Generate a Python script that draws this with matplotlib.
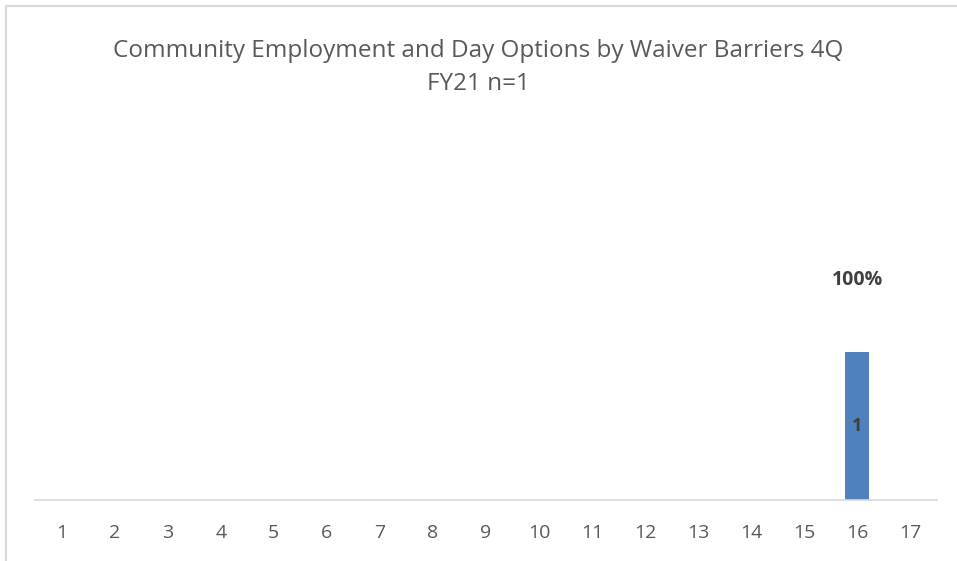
import numpy as np
import matplotlib
matplotlib.use('Agg')
import matplotlib.pyplot as plt
from matplotlib.patches import Rectangle

# 데이터
categories = [str(i) for i in range(1, 18)]
values = [0]*15 + [1, 0]
pct_labels = {16: '100%'}
title_1 = 'Community Employment and Day Options by Waiver Barriers 4Q'
title_2 = 'FY21 n=1'

plt.rcParams['font.family'] = ['Open Sans', 'DejaVu Sans']

fig = plt.figure(figsize=(9.57, 5.61), dpi=100, facecolor='white')
# 바깥 테두리 (잘린 차트 영역)
fig.patches.append(Rectangle((6/957, -0.1), 1.2, (561-6)/561 + 0.1, transform=fig.transFigure,
                             fill=False, edgecolor='#d9d9d9', linewidth=1.5))

ax = fig.add_axes([35/957, (561-500)/561, (937-35)/957, 400/561])
x = np.arange(1, 18)
bars = ax.bar(x, values, width=0.45, color='#4f81bd')

ax.set_xlim(0.5, 17.5)
ax.set_ylim(0, 400/148)
ax.set_xticks(x)
ax.set_xticklabels(categories, fontsize=14, color='#595959')
ax.tick_params(axis='x', length=0, pad=17)
ax.set_yticks([])
for s in ['top', 'left', 'right']:
    ax.spines[s].set_visible(False)
ax.spines['bottom'].set_color('#d9d9d9')
ax.spines['bottom'].set_linewidth(1.2)

for xi, v in zip(x, values):
    if v > 0:
        ax.text(xi, v/2, str(v), ha='center', va='center', fontsize=13,
                fontweight='bold', color='#404040')
        ax.text(xi, v + 72/148, pct_labels[xi], ha='center', va='center', fontsize=14,
                fontweight='bold', color='#404040')

fig.text(0.5, 1 - 57/561, title_1, ha='center', va='baseline', fontsize=17.5, color='#595959')
fig.text(0.5, 1 - 90/561, title_2, ha='center', va='baseline', fontsize=17.5, color='#595959')

plt.savefig('out.png', dpi=100, facecolor='white')
